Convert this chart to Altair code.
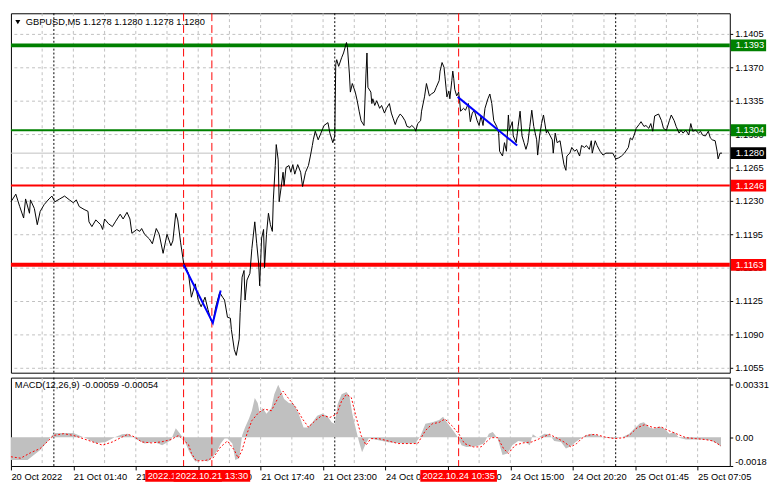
import json
import altair as alt
import pandas as pd

# ---------------- data ----------------
symbol = "GBPUSD,M5"
ohlc = [1.1278, 1.1280, 1.1278, 1.1280]
macd_params = [12, 26, 9]
macd_last = [-0.00059, -0.00054]

price_idx = [0, 5, 9, 13, 15, 19, 20, 24, 27, 30, 34, 39, 42, 45, 50, 55, 60, 64, 67, 70,
             75, 79, 80, 83, 87, 92, 94, 96, 100, 104, 107, 112, 115, 119, 122, 124, 129, 132, 134, 137,
             142, 145, 149, 152, 156, 160, 164, 166, 169, 171, 174, 177, 182, 185, 189, 192, 195, 199, 202, 205,
             207, 210, 214, 217, 219, 222, 225, 226, 229, 231, 234, 235, 237, 239, 240, 242, 245, 247, 250, 252,
             254, 255, 257, 259, 260, 262, 264, 266, 268, 269, 271, 272, 274, 275, 277, 279, 280, 282, 285, 287,
             289, 291, 294, 297, 299, 302, 305, 307, 309, 310, 312, 315, 319, 321, 325, 327, 330, 332, 333, 334,
             336, 339, 341, 344, 345, 347, 348, 350, 353, 355, 357, 359, 362, 364, 365, 366, 369, 370, 371, 373,
             375, 378, 380, 383, 385, 388, 390, 392, 394, 396, 399, 401, 404, 406, 409, 411, 414, 415, 417, 420,
             421, 424, 426, 429, 431, 434, 436, 439, 440, 442, 444, 445, 447, 449, 450, 452, 453, 454, 455, 457,
             459, 460, 461, 464, 466, 469, 471, 473, 475, 478, 480, 482, 484, 486, 489, 491, 493, 495, 498, 500,
             501, 504, 506, 508, 510, 511, 514, 515, 518, 520, 522, 524, 526, 528, 530, 532, 534, 536, 539, 540,
             542, 544, 546, 549, 550, 553, 555, 556, 558, 560, 563, 565, 567, 569, 570, 573, 575, 578, 580, 583,
             585, 588, 590, 593, 595, 596, 599, 601, 604, 607, 610, 614, 617, 620, 623, 626, 629, 633, 635, 637,
             639, 641, 644, 646, 649, 651, 654, 656, 658, 660, 664, 667, 669, 672, 675, 677, 680, 682, 685, 687,
             689, 692, 695, 697, 699, 702, 705, 707, 709, 712, 715, 717, 719, 722, 724, 725, 727, 729]
price_close = [1.1229, 1.1237, 1.1224, 1.1212, 1.1232, 1.1217, 1.1231, 1.1222, 1.1205, 1.1219, 1.1226, 1.1232, 1.1235, 1.1229, 1.1232, 1.1235, 1.1231, 1.1228, 1.1231, 1.1224,
               1.1221, 1.1219, 1.1208, 1.1203, 1.1210, 1.1205, 1.1200, 1.1211, 1.1206, 1.1203, 1.1208, 1.1216, 1.1211, 1.1218, 1.1211, 1.1196, 1.1200, 1.1198, 1.1201, 1.1195,
               1.1190, 1.1185, 1.1201, 1.1195, 1.1175, 1.1195, 1.1183, 1.1188, 1.1217, 1.1210, 1.1186, 1.1165, 1.1154, 1.1129, 1.1143, 1.1126, 1.1119, 1.1129, 1.1116, 1.1105,
               1.1102, 1.1119, 1.1134, 1.1129, 1.1126, 1.1108, 1.1107, 1.1095, 1.1074, 1.1068, 1.1085, 1.1113, 1.1150, 1.1157, 1.1126, 1.1147, 1.1154, 1.1180, 1.1208, 1.1185,
               1.1164, 1.1141, 1.1191, 1.1200, 1.1160, 1.1195, 1.1217, 1.1205, 1.1198, 1.1231, 1.1267, 1.1289, 1.1273, 1.1229, 1.1244, 1.1260, 1.1246, 1.1265, 1.1267, 1.1260,
               1.1268, 1.1258, 1.1268, 1.1260, 1.1245, 1.1260, 1.1267, 1.1277, 1.1288, 1.1294, 1.1303, 1.1294, 1.1304, 1.1309, 1.1312, 1.1301, 1.1291, 1.1298, 1.1373, 1.1378,
               1.1371, 1.1380, 1.1385, 1.1396, 1.1391, 1.1363, 1.1344, 1.1353, 1.1344, 1.1335, 1.1324, 1.1314, 1.1309, 1.1363, 1.1385, 1.1349, 1.1344, 1.1332, 1.1337, 1.1330,
               1.1335, 1.1327, 1.1330, 1.1322, 1.1327, 1.1332, 1.1322, 1.1316, 1.1310, 1.1316, 1.1321, 1.1319, 1.1314, 1.1308, 1.1307, 1.1309, 1.1306, 1.1303, 1.1311, 1.1314,
               1.1324, 1.1339, 1.1353, 1.1340, 1.1342, 1.1344, 1.1349, 1.1356, 1.1366, 1.1375, 1.1370, 1.1360, 1.1339, 1.1345, 1.1337, 1.1356, 1.1366, 1.1358, 1.1347, 1.1340,
               1.1344, 1.1335, 1.1324, 1.1327, 1.1325, 1.1332, 1.1313, 1.1322, 1.1325, 1.1314, 1.1309, 1.1319, 1.1309, 1.1327, 1.1337, 1.1342, 1.1332, 1.1314, 1.1308, 1.1301,
               1.1282, 1.1277, 1.1291, 1.1282, 1.1320, 1.1304, 1.1313, 1.1298, 1.1291, 1.1308, 1.1324, 1.1298, 1.1291, 1.1284, 1.1291, 1.1308, 1.1325, 1.1308, 1.1294, 1.1278,
               1.1298, 1.1311, 1.1320, 1.1301, 1.1304, 1.1298, 1.1294, 1.1280, 1.1301, 1.1291, 1.1293, 1.1280, 1.1268, 1.1262, 1.1277, 1.1280, 1.1286, 1.1282, 1.1284, 1.1277,
               1.1288, 1.1286, 1.1288, 1.1284, 1.1293, 1.1280, 1.1293, 1.1288, 1.1282, 1.1278, 1.1280, 1.1280, 1.1280, 1.1274, 1.1275, 1.1277, 1.1280, 1.1286, 1.1296, 1.1294,
               1.1299, 1.1306, 1.1310, 1.1313, 1.1308, 1.1309, 1.1306, 1.1311, 1.1303, 1.1319, 1.1321, 1.1314, 1.1306, 1.1304, 1.1314, 1.1320, 1.1314, 1.1308, 1.1301, 1.1304,
               1.1301, 1.1304, 1.1299, 1.1311, 1.1303, 1.1304, 1.1301, 1.1303, 1.1299, 1.1298, 1.1303, 1.1296, 1.1294, 1.1293, 1.1282, 1.1274, 1.1280, 1.1280]

hist_idx = [0, 17, 30, 37, 42, 45, 64, 70, 77, 87, 97, 107, 114, 120, 127, 137, 147, 155, 164, 169,
            172, 177, 182, 186, 189, 195, 202, 207, 212, 215, 219, 222, 227, 230, 234, 237, 240, 244, 247, 250,
            253, 255, 258, 262, 267, 270, 274, 277, 280, 285, 290, 295, 300, 304, 309, 314, 319, 324, 329, 332,
            335, 339, 344, 347, 350, 354, 357, 360, 364, 367, 377, 387, 397, 407, 415, 420, 425, 432, 439, 443,
            447, 452, 457, 462, 467, 477, 485, 490, 494, 499, 504, 509, 514, 520, 527, 532, 535, 540, 547, 552,
            557, 564, 569, 574, 579, 584, 589, 595, 602, 609, 619, 627, 634, 639, 645, 649, 654, 659, 665, 670,
            675, 680, 685, 692, 700, 709, 717, 724, 728]
hist_val = [-0.00142, -0.00142, -0.0008, -0.00029, 0.00012, 0.00027, 0.00027, 0.00012, -0.00006, -0.00037,
            -0.00029, 0.00002, 0.00019, 0.00023, -0.00008, -0.00039, -0.00029, -0.00049, -0.00019, 0.00057,
            0.00033, -0.00008, -0.0008, -0.00125, -0.00152, -0.00142, -0.00152, -0.00122, -0.0008, -0.00039,
            -0.00008, -0.00008, -0.00039, -0.00142, -0.00131, 0.00012, 0.00062, 0.00117, 0.00167, 0.00247,
            0.00216, 0.00154, 0.00185, 0.00148, 0.00185, 0.00271, 0.00331, 0.0029, 0.00241, 0.00216,
            0.0021, 0.00148, 0.00062, 0.00062, 0.00093, 0.00136, 0.00148, 0.00136, 0.00093, 0.00086,
            0.0021, 0.00271, 0.00284, 0.00259, 0.00148, 0.00043, -0.00031, -0.00093, -0.00037, -0.00006,
            -0.00019, -0.00031, -0.00035, -0.00039, -0.00035, 0.00012, 0.00086, 0.00094, 0.00109, 0.0013,
            0.00094, 0.00054, 0.00012, -0.00049, -0.0006, -0.00056, -0.00039, 0.00023, 0.00033, -0.00008,
            -0.00111, -0.00101, -0.00049, -0.00023, -0.00029, -0.00049, 0.00019, -0.00002, 0.00023, 0.00019,
            -0.00023, -0.00029, -0.0007, -0.00056, -0.00029, -0.00008, 0.00012, 0.00023, 0.00012, -0.00002,
            -0.00008, 0.00002, 0.00023, 0.00054, 0.00088, 0.00094, 0.00064, 0.00054, 0.00068, 0.00054,
            0.00023, 0.00033, -0.00002, -0.00014, -0.00014, -0.00014, -0.00019, -0.00039, -0.00059]

signal_idx = [0, 10, 20, 30, 37, 44, 54, 64, 74, 84, 94, 104, 114, 120, 127, 134, 144, 154, 164, 172,
              179, 182, 185, 190, 199, 207, 215, 222, 229, 233, 237, 242, 247, 254, 260, 267, 274, 279, 284, 292,
              299, 305, 312, 319, 327, 334, 339, 344, 349, 354, 359, 364, 369, 377, 387, 397, 407, 417, 425, 432,
              439, 445, 452, 459, 465, 474, 482, 492, 499, 505, 510, 517, 525, 534, 542, 552, 559, 567, 574, 580,
              585, 590, 599, 609, 619, 629, 635, 642, 650, 659, 667, 674, 682, 692, 702, 712, 720, 728]
signal_val = [-0.00122, -0.00131, -0.00097, -0.0007, -0.00029, 0.00012, 0.00023, 0.00012, -0.00008, -0.00029,
              -0.00049, -0.00029, 0.00002, 0.00019, 0.00002, -0.00029, -0.00035, -0.00029, -0.00014, 0.00012,
              -0.00029, -0.00045, -0.001, -0.00148, -0.00146, -0.00131, -0.0006, -0.00023, -0.0008, -0.00131,
              -0.0008, 0.00023, 0.00105, 0.00156, 0.00177, 0.00167, 0.00249, 0.0029, 0.00249, 0.00187,
              0.00115, 0.00064, 0.00105, 0.00138, 0.00125, 0.00146, 0.00228, 0.0027, 0.00249, 0.00125,
              0.00012, -0.00049, -0.00008, -0.00008, -0.00023, -0.00039, -0.00039, -0.00039, 0.00043, 0.00085,
              0.00094, 0.00115, 0.00074, 0.00023, -0.00039, -0.0006, -0.0006, -0.00002, -0.00002, -0.0007,
              -0.00101, -0.00049, -0.00035, -0.00029, -0.00008, 0.00019, -0.00002, -0.00029, -0.0006, -0.00039,
              -0.00008, 0.00012, 0.00019, 0.00002, -0.00008, -0.00002, 0.00019, 0.0006, 0.0008, 0.0006,
              0.00064, 0.00043, 0.00023, -0.00002, -0.00008, -0.00014, -0.00023, -0.00054]

level_prices = [1.1393, 1.1304, 1.1246, 1.1163]
level_colors = ["#008000", "#008000", "#FF0000", "#FF0000"]
level_widths = [4, 2, 2, 4]
bid_price = 1.1280

trend_group = ["a", "a", "a", "b", "b"]
trend_idx = [177, 207, 215, 458, 519]
trend_price = [1.1163, 1.1102, 1.1136, 1.1339, 1.1288]

y_ticks = [1.1055, 1.1090, 1.1125, 1.1160, 1.1195, 1.1230, 1.1265, 1.1300, 1.1335, 1.1370, 1.1405]
macd_ticks = [-0.0018, 0.0, 0.00331]
macd_tick_labels = ["-0.0018", "0.00", "0.00331"]

x_tick_idx = [0, 64, 128, 192, 256, 320, 384, 448, 512, 576, 640, 704]
x_tick_labels = ["20 Oct 2022", "21 Oct 01:40", "21 Oct 07:00", "21 Oct 12:20", "21 Oct 17:40",
                 "21 Oct 23:00", "24 Oct 04:20", "24 Oct 09:40", "24 Oct 15:00", "24 Oct 20:20",
                 "25 Oct 01:45", "25 Oct 07:05"]
grid_idx = [32, 64, 96, 128, 160, 192, 224, 256, 288, 320, 352, 384, 416, 448, 480, 512,
            544, 576, 608, 640, 672, 704]
sep_idx = [44, 332, 620]
mark_idx = [177, 206, 459]
mark_labels = ["2022.10.21 11:05", "2022.10.21 13:30", "2022.10.24 10:35"]

# ---------------- layout ----------------
W, H1, H2 = 732, 366, 90
FONT = "Liberation Sans"
FS = 9.5

xscale = alt.Scale(domain=[0, 737], nice=False, zero=False)
yscale = alt.Scale(domain=[1.104985, 1.142662], nice=False, zero=False)
mscale = alt.Scale(domain=[-0.0018, 0.00375], nice=False, zero=False)

xlabel_expr = f"{json.dumps(x_tick_labels)}[indexof({json.dumps(x_tick_idx)}, datum.value)]"
mlabel_expr = f"{json.dumps(macd_tick_labels)}[indexof({json.dumps(macd_ticks)}, datum.value)]"

AX_MAIN_Y = alt.Axis(orient="right", values=y_ticks, format=".4f", grid=True, gridColor="#C0C0C0",
                     gridDash=[3, 3], tickSize=3, labelPadding=2, domain=False, title=None)
AX_MACD_X = alt.Axis(orient="bottom", values=x_tick_idx, labelExpr=xlabel_expr, labelAlign="left",
                     labelBaseline="top", tickSize=4, labelPadding=2, grid=False, domain=False,
                     labelOverlap=False, title=None)
AX_MACD_Y = alt.Axis(orient="right", values=macd_ticks, labelExpr=mlabel_expr, labelFlush=True,
                     grid=False, tickSize=3, labelPadding=2, domain=False, title=None)

XM = lambda: alt.X("i:Q", scale=xscale, axis=None)
YM = lambda: alt.Y("p:Q", scale=yscale, axis=AX_MAIN_Y)
XB = lambda: alt.X("i:Q", scale=xscale, axis=AX_MACD_X)
YB = lambda: alt.Y("v:Q", scale=mscale, axis=AX_MACD_Y)


def vrules(idx_list, color, dash, xenc):
    return alt.Chart(pd.DataFrame({"i": idx_list})).mark_rule(
        color=color, strokeDash=dash, strokeWidth=1
    ).encode(x=xenc())


one = pd.DataFrame({"a": [0]})

# ---- main panel ----
level_df = pd.DataFrame({"p": level_prices, "c": level_colors, "w": level_widths})
levels = alt.Chart(level_df).mark_rule().encode(
    y=YM(), color=alt.Color("c:N", scale=None), strokeWidth=alt.StrokeWidth("w:Q", scale=None),
)
bid = alt.Chart(pd.DataFrame({"p": [bid_price]})).mark_rule(color="#C0C0C0", strokeWidth=1).encode(y=YM())
price_line = alt.Chart(pd.DataFrame({"i": price_idx, "p": price_close})).mark_line(
    color="black", strokeWidth=1
).encode(x=XM(), y=YM())
trend = alt.Chart(pd.DataFrame({"g": trend_group, "i": trend_idx, "p": trend_price})).mark_line(
    color="#0000FF", strokeWidth=2
).encode(x=XM(), y=YM(), detail="g:N")
box_df = pd.DataFrame({
    "p": level_prices + [bid_price],
    "c": level_colors + ["#000000"],
    "t": [f"{v:.4f}" for v in level_prices + [bid_price]],
})
boxes = alt.Chart(box_df).mark_rule(strokeWidth=12).encode(
    y=YM(), x=alt.value(W + 1), x2=alt.value(W + 37), color=alt.Color("c:N", scale=None),
)
box_text = alt.Chart(box_df).mark_text(
    align="left", baseline="middle", color="white", font=FONT, fontSize=FS
).encode(y=YM(), x=alt.value(W + 6), text="t:N")
title_txt = symbol + "  " + " ".join(f"{v:.4f}" for v in ohlc)
title = alt.Chart(pd.DataFrame({"t": [title_txt]})).mark_text(
    align="left", baseline="middle", color="black", font=FONT, fontSize=FS
).encode(x=alt.value(15), y=alt.value(9), text="t:N")
tri = alt.Chart(one).mark_point(shape="triangle-down", filled=True, size=26, color="black", opacity=1).encode(
    x=alt.value(7), y=alt.value(9)
)

main = alt.layer(
    vrules(grid_idx, "#C0C0C0", [3, 3], XM),
    vrules(sep_idx, "black", [2, 2], XM),
    bid, levels,
    vrules(mark_idx, "#FF0000", [8, 4], XM),
    price_line, trend, boxes, box_text, title, tri,
).properties(width=W, height=H1)

# ---- MACD panel ----
hist = alt.Chart(pd.DataFrame({"i": hist_idx, "v": hist_val})).mark_area(color="#C0C0C0", opacity=1).encode(
    x=XB(), y=YB(), y2=alt.datum(0),
)
signal = alt.Chart(pd.DataFrame({"i": signal_idx, "v": signal_val})).mark_line(
    color="#FF0000", strokeDash=[2, 2], strokeWidth=1
).encode(x=XB(), y=YB())
macd_txt = "MACD({},{},{}) {} {}".format(*macd_params, *[f"{v:.5f}" for v in macd_last])
macd_label = alt.Chart(pd.DataFrame({"t": [macd_txt]})).mark_text(
    align="left", baseline="middle", color="black", font=FONT, fontSize=FS
).encode(x=alt.value(4), y=alt.value(8), text="t:N")

red_layers = []
for mi, ml in zip(mark_idx, mark_labels):
    d = pd.DataFrame({"i": [mi], "t": [ml]})
    red_layers.append(
        alt.Chart(d).mark_rule(color="#FF0000", strokeWidth=12, xOffset=-39, x2Offset=39).encode(
            x=XB(), x2="i:Q", y=alt.value(H2 + 10)
        )
    )
    red_layers.append(
        alt.Chart(d).mark_text(align="center", baseline="middle", color="white", font=FONT, fontSize=FS).encode(
            x=XB(), y=alt.value(H2 + 10), text="t:N"
        )
    )

macd = alt.layer(
    vrules(grid_idx, "#C0C0C0", [3, 3], XB),
    vrules(sep_idx, "black", [2, 2], XB),
    hist, signal,
    vrules(mark_idx, "#FF0000", [8, 4], XB),
    macd_label, *red_layers,
).properties(width=W, height=H2)

chart = alt.vconcat(main, macd, spacing=3, padding=0, background="white").configure_view(
    stroke="black", strokeWidth=1
).configure_axis(
    labelFont=FONT, labelFontSize=FS, labelColor="black", tickColor="black"
)

chart.save("out.html", embed_options={"renderer": "svg", "actions": False})
